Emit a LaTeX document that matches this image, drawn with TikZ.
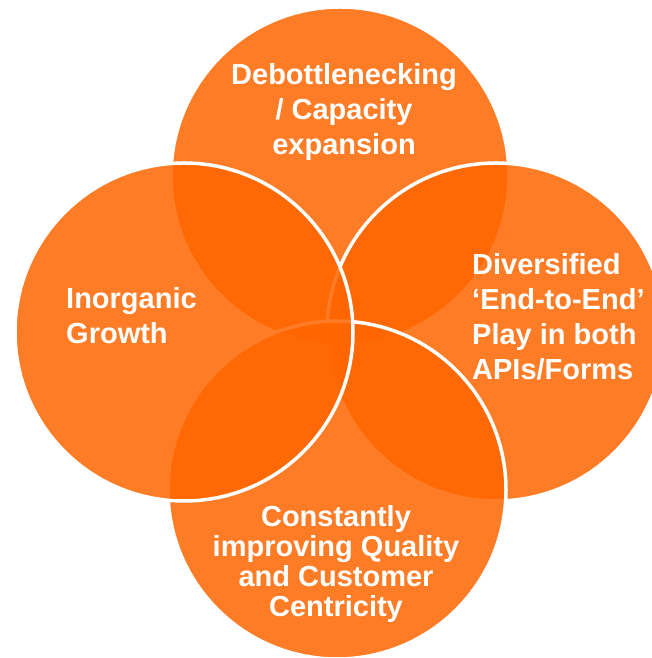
\documentclass[tikz,border=0pt]{standalone}
\usepackage{fontspec}
\setmainfont{Liberation Sans}
\definecolor{venn}{RGB}{255,102,0}
\begin{document}
\begin{tikzpicture}[x=1pt,y=1pt,
  vcircle/.style={fill=venn, fill opacity=0.85, draw=white, line width=3.5pt},
  vlabel/.style={text=white, inner sep=0pt, font=\fontsize{29}{35}\selectfont\bfseries}]
\useasboundingbox (0,0) rectangle (652,658);
\clip (0,0) rectangle (652,658);
\fill[white] (0,0) rectangle (652,658);
\path[vcircle] (340,482) circle[radius=169];
\path[vcircle] (496,326) circle[radius=169];
\path[vcircle] (337,168) circle[radius=169];
\path[vcircle] (184,326) circle[radius=169];
\node[vlabel, align=center] (top) at (344,546) {Debottlenecking\\/ Capacity\\expansion};
\node[vlabel, align=left, anchor=west] (right) at (472,341) {Diversified\\‘End-to-End’\\Play in both\\APIs/Forms};
\node[vlabel, align=left, anchor=west] (left) at (66,342) {Inorganic\\Growth};
\node[vlabel, align=center, font=\fontsize{29}{30}\selectfont\bfseries] (bottom) at (336,94) {Constantly\\improving Quality\\and Customer\\Centricity};
\end{tikzpicture}
\end{document}
